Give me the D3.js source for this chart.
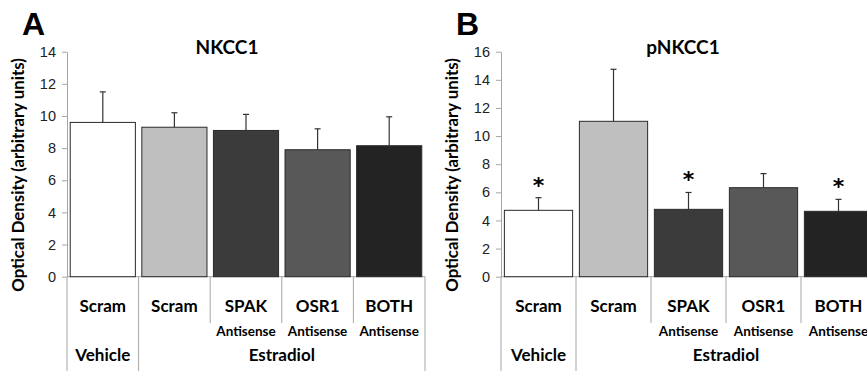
<!DOCTYPE html>
<html>
<head>
<meta charset="utf-8">
<script src="https://cdn.jsdelivr.net/npm/d3@7"></script>
<style>
  body { margin: 0; background: #fff; }
  svg { display: block; font-family: Lato, "Open Sans", sans-serif; }
  .axis path, .axis line { stroke: #a6a6a6; }
  .axis text { fill: #222; font-size: 14.5px; }
</style>
</head>
<body>
<div id="chart"></div>
<script>
// data
var groups = ["Scram", "Scram", "SPAK", "OSR1", "BOTH"];
var subLabels = ["", "", "Antisense", "Antisense", "Antisense"];
var treatments = ["Vehicle", "Estradiol"];
var treatmentSpan = [1, 4];          // number of groups under each treatment
var barColors = ["#ffffff", "#bfbfbf", "#3b3b3b", "#585858", "#232323"];

var nkcc1Mean = [9.6, 9.3, 9.1, 7.9, 8.15];
var nkcc1Err = [1.9, 0.9, 1.0, 1.3, 1.8];
var nkcc1Ticks = [0, 2, 4, 6, 8, 10, 12, 14];

var pnkcc1Mean = [4.72, 11.05, 4.79, 6.33, 4.65];
var pnkcc1Err = [0.9, 3.7, 1.2, 1.0, 0.85];
var pnkcc1Sig = [true, false, true, false, true];
var pnkcc1Ticks = [0, 2, 4, 6, 8, 10, 12, 14, 16];

var svg = d3.select("#chart").append("svg")
    .attr("width", 867)
    .attr("height", 371);

function drawPanel(p) {
    var g = svg.append("g");
    var x = d3.scaleBand().domain(d3.range(groups.length))
        .range([p.x0, p.x1]).paddingInner(0.09).paddingOuter(0.045);
    var y = d3.scaleLinear().domain([0, p.max]).range([276.7, 51.7]);
    var step = (p.x1 - p.x0) / groups.length;

    // panel letter + title
    g.append("text").attr("x", p.letterX).attr("y", 35)
        .style("font-family", "Liberation Sans, Arial, sans-serif")
        .style("font-weight", "bold").style("font-size", "32px").text(p.letter);
    g.append("text").attr("x", p.titleX).attr("y", 54)
        .attr("text-anchor", "middle")
        .style("font-weight", "bold").style("font-size", "19px").text(p.title);

    // y label
    g.append("text")
        .attr("transform", "translate(" + p.labelX + ",175) rotate(-90)")
        .attr("text-anchor", "middle")
        .style("font-weight", "bold").style("font-size", "16.8px")
        .text("Optical Density (arbitrary units)");

    // y axis
    var yAxis = d3.axisLeft(y).tickValues(p.ticks).tickSize(5).tickSizeOuter(0)
        .tickFormat(d3.format("d"));
    g.append("g").attr("class", "axis")
        .attr("transform", "translate(" + p.x0 + ",0)")
        .call(yAxis)
        .call(function (s) { s.selectAll("text").attr("x", -11); });

    // x baseline
    g.append("line").attr("x1", p.x0).attr("x2", p.x1)
        .attr("y1", y(0)).attr("y2", y(0)).attr("stroke", "#a6a6a6");

    // separators in the category area
    d3.range(groups.length + 1).forEach(function (i) {
        var full = (i <= 1 || i === groups.length);
        g.append("line")
            .attr("x1", p.x0 + i * step).attr("x2", p.x0 + i * step)
            .attr("y1", y(0)).attr("y2", full ? 371 : 323)
            .attr("stroke", "#a6a6a6");
    });

    // bars
    g.selectAll(".bar").data(p.mean).enter().append("rect")
        .attr("x", function (d, i) { return x(i); })
        .attr("y", function (d) { return y(d); })
        .attr("width", x.bandwidth())
        .attr("height", function (d) { return y(0) - y(d); })
        .attr("fill", function (d, i) { return barColors[i]; })
        .attr("stroke", "#2a2a2a").attr("stroke-width", 1);

    // error bars (upper only)
    p.mean.forEach(function (m, i) {
        var cx = x(i) + x.bandwidth() / 2;
        var top = y(m + p.err[i]);
        g.append("line").attr("x1", cx).attr("x2", cx)
            .attr("y1", y(m)).attr("y2", top)
            .attr("stroke", "#333").attr("stroke-width", 1.2);
        g.append("line").attr("x1", cx - 3).attr("x2", cx + 3)
            .attr("y1", top).attr("y2", top)
            .attr("stroke", "#333").attr("stroke-width", 1.2);
        if (p.sig && p.sig[i]) {
            g.append("text").attr("x", cx).attr("y", top - 5)
                .attr("text-anchor", "middle")
                .style("font-family", "DejaVu Sans, sans-serif")
                .style("font-weight", "bold").style("font-size", "22px").text("*");
        }
    });

    // category labels
    groups.forEach(function (t, i) {
        var cx = p.x0 + (i + 0.5) * step;
        g.append("text").attr("x", cx).attr("y", 312)
            .attr("text-anchor", "middle")
            .style("font-weight", "bold").style("font-size", "17px").text(t);
        if (subLabels[i]) {
            g.append("text").attr("x", cx).attr("y", 336)
                .attr("text-anchor", "middle")
                .style("font-weight", "bold").style("font-size", "13.5px").text(subLabels[i]);
        }
    });
    var start = 0;
    treatments.forEach(function (t, j) {
        var cx = p.x0 + (start + treatmentSpan[j] / 2) * step;
        start += treatmentSpan[j];
        g.append("text").attr("x", cx).attr("y", 361)
            .attr("text-anchor", "middle")
            .style("font-weight", "bold").style("font-size", "17px").text(t);
    });
}

drawPanel({
    letter: "A", letterX: 22, title: "NKCC1", titleX: 227, labelX: 24,
    x0: 67, x1: 425, max: 14, ticks: nkcc1Ticks,
    mean: nkcc1Mean, err: nkcc1Err
});
drawPanel({
    letter: "B", letterX: 456, title: "pNKCC1", titleX: 683, labelX: 458,
    x0: 501, x1: 876, max: 16, ticks: pnkcc1Ticks,
    mean: pnkcc1Mean, err: pnkcc1Err, sig: pnkcc1Sig
});
</script>
</body>
</html>
